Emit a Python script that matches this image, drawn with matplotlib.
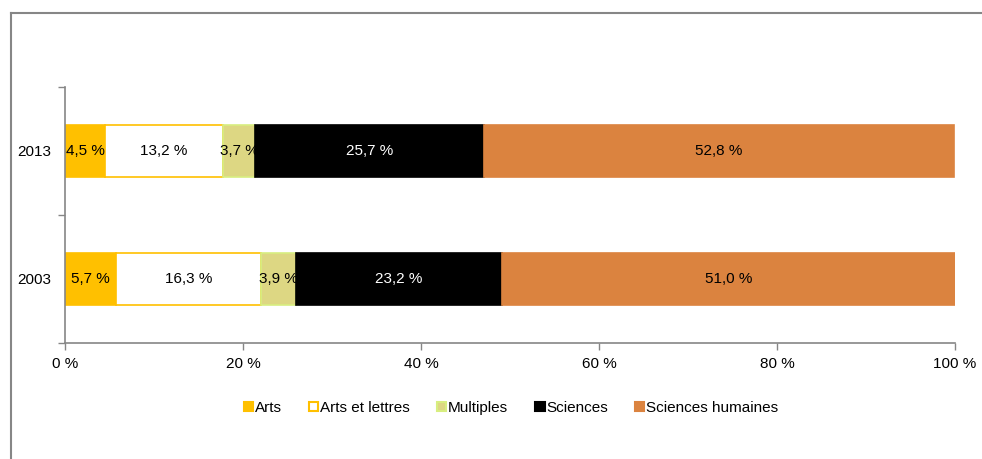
import matplotlib.pyplot as plt
import numpy as np
from matplotlib.lines import Line2D
from matplotlib.patches import Patch

plt.rcParams['font.family'] = ['Liberation Sans', 'DejaVu Sans']

years = ["2003", "2013"]
categories = ["Arts", "Arts et lettres", "Multiples", "Sciences", "Sciences humaines"]
values = {
    "Arts": [5.7, 4.5],
    "Arts et lettres": [16.3, 13.2],
    "Multiples": [3.9, 3.7],
    "Sciences": [23.2, 25.7],
    "Sciences humaines": [51.0, 52.8],
}
xticks = [0, 20, 40, 60, 80, 100]

faces = ["#FFC000", "white", "#DDD783", "black", "#DB833F"]
edges = ["#FFC000", "#FFC000", "#D8EE80", "black", "#DB833F"]
txtcol = ["black", "black", "black", "white", "black"]
fs = 11

fig = plt.figure(figsize=(9.82, 4.59), dpi=100)
ax = fig.add_axes([65/982, 1-343/459, 890/982, 256/459])

y = np.arange(len(years))
left = np.zeros(len(years))
for i, c in enumerate(categories):
    v = np.array(values[c])
    ax.barh(y, v, left=left, height=0.41, color=faces[i], edgecolor=edges[i],
            linewidth=1.2, label=c)
    for yy, l, w in zip(y, left, v):
        ax.text(min(l + w/2, 100 - 0.01), yy, f"{w:.1f} %".replace(".", ","),
                ha="center", va="center", fontsize=fs, color=txtcol[i])
    left += v

ax.set_xlim(0, 100)
ax.set_ylim(-0.5, 1.5)
ax.set_xticks(xticks)
ax.set_xticklabels([f"{t} %" for t in xticks], fontsize=fs)
ax.set_yticks(y)
ax.set_yticklabels(years, fontsize=fs)
ax.tick_params(axis="y", which="major", length=0, pad=10)
ax.set_yticks([-0.5, 0.5, 1.5], minor=True)
ax.tick_params(axis="y", which="minor", length=5, color="#868686", width=1)
ax.tick_params(axis="x", length=5, color="#868686", width=1, pad=5)
for s in ["top", "right"]:
    ax.spines[s].set_visible(False)
for s in ["left", "bottom"]:
    ax.spines[s].set_color("#868686")
    ax.spines[s].set_linewidth(1.2)

handles = [Patch(facecolor=faces[i], edgecolor=edges[i], linewidth=1.5) for i in range(5)]
fig.legend(handles, categories, loc="center", bbox_to_anchor=(511/982, 1-408/459),
           ncol=5, frameon=False, fontsize=fs, handlelength=0.6, handleheight=0.6,
           handletextpad=0.1, columnspacing=1.8)

# outer chart frame (top and left edges visible)
fig.add_artist(Line2D([11/982, 11/982], [0, 1-13/459], color="#868686", lw=1.5,
                      transform=fig.transFigure))
fig.add_artist(Line2D([11/982, 1], [1-13/459, 1-13/459], color="#868686", lw=1.5,
                      transform=fig.transFigure))

fig.savefig("out.png", dpi=100)
